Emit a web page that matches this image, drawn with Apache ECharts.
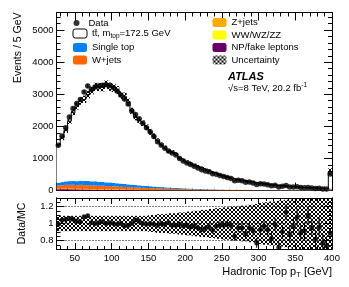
<!DOCTYPE html>
<html><head><meta charset="utf-8">
<script src="https://cdn.jsdelivr.net/npm/echarts@6/dist/echarts.min.js"></script>
<style>html,body{margin:0;padding:0;background:#fff}#c{width:349px;height:287px}</style>
</head><body><div id="c"></div>
<script>
// ---------------- data ----------------
const binEdges = [25,30,35,40,45,50,55,60,65,70,75,80,85,90,95,100,105,110,115,120,125,130,135,140,145,150,155,160,165,170,175,180,185,190,195,200,205,210,215,220,225,230,235,240,245,250,255,260,265,270,275,280,285,290,295,300,305,310,315,320,325,330,335,340,345,350,355,360,365,370,375,380,385,390,395,400];
const dataEvents = [1410,1700,1960,2290,2560,2710,2840,3070,3260,3150,
 3230,3260,3280,3300,3270,3200,3100,2975,2850,2700,
 2480,2370,2240,2100,1960,1830,1680,1520,1420,1320,
 1230,1170,1110,1000,920,860,810,760,705,650,
 611,581,520,504,470,436,408,377,304,318,
 303,261,263,237,185,207,202,179,148,165,
 112,131,153,109,113,116,90,86,95,77,
 62,67,50,45,516];
const ttbar = [1187,1372,1583,1867,2137,2340,2478,2545,2693,2833,
 2942,2956,2945,3047,2987,2965,2906,2760,2735,2563,
 2297,2109,2015,1949,1840,1697,1574,1436,1312,1234,
 1125,1108,1054,936,879,814,785,729,691,652,
 607,565,527,485,448,415,384,359,333,312,
 297,277,258,241,223,207,193,179,166,154,
 144,133,123,114,107,98,91,84,78,73,
 68,62,57,53,518];
const singleTop = [85,98,108,116,122,126,129,130,130,129,
 127,124,121,117,112,107,102,96,91,86,
 81,76,71,66,61,57,53,49,45,41,
 38,35,32,29,27,25,23,21,19,17,
 16,15,14,13,12,11,10,9,9,8,
 8,7,7,6,6,6,5,5,5,4,
 4,4,4,3,3,3,3,3,3,2,
 2,2,2,2,20];
const wJets = [95,105,115,118,122,110,125,118,120,112,
 118,108,112,100,104,96,92,90,84,80,
 78,72,68,66,60,58,54,50,48,44,
 42,38,36,34,31,29,27,25,23,22,
 20,19,18,16,15,14,13,12,12,11,
 10,9,9,8,8,7,7,6,6,6,
 5,5,5,5,4,4,4,4,3,3,
 3,3,3,3,30];
const zJets = [14,15,16,16,16,16,15,15,15,14,
 14,13,13,12,12,11,11,10,10,9,
 9,8,8,7,7,7,6,6,6,5,
 5,5,4,4,4,4,3,3,3,3,
 3,2,2,2,2,2,2,2,1,1,
 1,1,1,1,1,1,1,1,1,1,
 1,1,1,1,1,1,1,1,1,1,
 1,1,1,1,5];
const diboson = [3,3,3,3,3,3,3,3,3,3,
 3,3,3,3,3,3,3,3,3,3,
 2,2,2,2,2,2,2,2,2,2,
 2,2,2,2,2,2,2,2,2,2,
 1,1,1,1,1,1,1,1,1,1,
 1,1,1,1,1,1,1,1,1,1,
 1,1,1,1,1,1,1,1,1,1,
 1,1,1,1,2];
const fakes = [40,42,42,40,38,36,34,32,30,28,
 26,24,22,21,20,18,17,16,15,14,
 13,12,11,10,10,9,8,8,7,7,
 6,6,5,5,5,4,4,4,4,3,
 3,3,3,3,2,2,2,2,2,2,
 2,2,1,1,1,1,1,1,1,1,
 1,1,1,1,1,1,1,1,1,1,
 1,1,1,1,5];
// relative MC uncertainty as drawn in the ratio panel
const ratioUncRel = [0.09,0.09,0.09,0.09,0.09,0.09,0.09,0.09,0.09,0.09,
 0.09,0.09,0.09,0.09,0.09,0.09,0.09,0.09,0.09,0.09,
 0.09,0.09,0.09,0.09,0.09,
 0.10,0.10,0.11,0.11,0.11,0.12,0.12,0.12,0.13,0.13,
 0.14,0.14,0.15,0.15,0.16,0.16,0.17,0.17,0.18,0.18,
 0.19,0.19,0.20,0.20,0.20,0.21,0.21,0.22,0.22,0.23,
 0.24,0.25,0.25,0.26,0.26,0.27,0.27,0.28,0.28,
 0.45,0.45,0.45,0.45,0.45,0.45,0.45,0.45,0.45,0.45,0.45];
// relative MC uncertainty as drawn in the main panel
const mainUncRel = [0.04,0.04,0.04,0.04,0.04,0.04,0.04,0.04,0.04,0.04,
 0.04,0.04,0.04,0.04,0.04,0.04,0.04,0.04,0.04,0.04,
 0.04,0.04,0.04,0.04,0.04,
 0.05,0.05,0.05,0.05,0.05,0.05,0.05,0.05,0.05,0.05,
 0.07,0.07,0.07,0.07,0.07,0.07,0.07,0.07,0.07,0.07,
 0.10,0.10,0.10,0.10,0.10,0.10,0.10,0.10,0.10,0.10,
 0.14,0.14,0.14,0.14,0.14,0.14,0.14,0.14,0.14,
 0.20,0.20,0.20,0.20,0.20,0.20,0.20,0.20,0.20,0.20,0.20];
const xTickLabels = [50,100,150,200,250,300,350,400];
const xMinorTicks = [30,40,60,70,80,90,110,120,130,140,160,170,180,190,210,220,230,240,260,270,280,290,310,320,330,340,360,370,380,390];
const ratioTicks = [0.8,1.0,1.2];
const ratioMinorTicks = [0.75,0.85,0.9,0.95,1.05,1.1,1.15,1.25];
const ratioRefLines = [0.8,1.0,1.2];

// ---------------- checks ----------------
const NB = dataEvents.length;
[ttbar,singleTop,wJets,zJets,diboson,fakes,ratioUncRel,mainUncRel].forEach((a,k)=>{ if(a.length!==NB) throw new Error('length mismatch '+k+' '+a.length); });
if (binEdges.length !== NB+1) throw new Error('edges');

const FONT = 'Liberation Sans, Arial, Helvetica, sans-serif';

// hatch pattern
const hc = document.createElement('canvas'); hc.width = 4; hc.height = 4;
const hg = hc.getContext('2d'); hg.fillStyle = '#000';
for (let i=0;i<4;i++){ hg.fillRect(i,i,1,1); hg.fillRect(3-i,i,1,1); }
const hatch = {image: hc, repeat: 'repeat'};

// ---------------- build stack ----------------
const comps = [
  {name:'NP/fake leptons', vals:fakes, color:'#660066'},
  {name:'WW/WZ/ZZ', vals:diboson, color:'#ffff00'},
  {name:'Z+jets', vals:zJets, color:'#ffaa00'},
  {name:'W+jets', vals:wJets, color:'#ff6600'},
  {name:'Single top', vals:singleTop, color:'#0080ff'}
];
const cum = new Array(NB).fill(0);
function clipR(r, cs){
  return echarts.graphic.clipRectByRect(r, {x:cs.x, y:cs.y, width:cs.width, height:cs.height});
}
function makeRectRender(fillFn){
  return function(params, api){
    const x0=api.value(0), x1=api.value(1), y0=api.value(2), y1=api.value(3);
    const a=api.coord([x0,y1]), b=api.coord([x1,y0]);
    const r=clipR({x:a[0], y:a[1], width:b[0]-a[0]+0.4, height:b[1]-a[1]}, params.coordSys);
    if(!r) return null;
    return {type:'rect', shape:r, style:{fill: fillFn(api)}};
  };
}
const colorFill = makeRectRender(api=>api.visual('color'));
const hatchFill = makeRectRender(()=>hatch);

const series = [];
comps.forEach((c,ci)=>{
  const rows=[];
  for(let i=0;i<NB;i++){ const lo=cum[i], hi=cum[i]+c.vals[i]; rows.push([binEdges[i],binEdges[i+1],lo,hi]); cum[i]=hi; }
  series.push({type:'custom', name:c.name, xAxisIndex:0, yAxisIndex:0, renderItem:colorFill,
    itemStyle:{color:c.color}, data:rows, encode:{x:[0,1], y:[2,3]}, z:2, silent:true});
});
const total = cum.map((b,i)=>b+ttbar[i]);
series.push({type:'custom', name:'ttbar', xAxisIndex:0, yAxisIndex:0, renderItem:colorFill,
  itemStyle:{color:'#ffffff', borderColor:'#000', borderWidth:1},
  data: ttbar.map((v,i)=>[binEdges[i],binEdges[i+1],cum[i],total[i]]), encode:{x:[0,1],y:[2,3]}, z:3, silent:true});
const stepData = total.map((v,i)=>[binEdges[i],v]); stepData.push([binEdges[NB], total[NB-1]]);
series.push({type:'line', name:'_total', xAxisIndex:0, yAxisIndex:0, step:'end', data:stepData,
  symbol:'none', lineStyle:{color:'#000', width:1}, z:4, silent:true});
series.push({type:'custom', name:'Uncertainty', xAxisIndex:0, yAxisIndex:0, renderItem:hatchFill,
  itemStyle:{color:'#777'},
  data: total.map((v,i)=>[binEdges[i],binEdges[i+1],v*(1-mainUncRel[i]),v*(1+mainUncRel[i])]), encode:{x:[0,1],y:[2,3]}, z:5, silent:true});
const centers = dataEvents.map((v,i)=>(binEdges[i]+binEdges[i+1])/2);
function errRender(params, api){
  const x=api.value(0), lo=api.value(1), hi=api.value(2);
  const a=api.coord([x,lo]), b=api.coord([x,hi]);
  return {type:'line', shape:{x1:a[0],y1:a[1],x2:b[0],y2:b[1]}, style:{stroke:'#000', lineWidth:1}};
}
series.push({type:'custom', name:'_dataErr', xAxisIndex:0, yAxisIndex:0, renderItem:errRender, clip:true,
  data: dataEvents.map((v,i)=>[centers[i], v-Math.sqrt(v), v+Math.sqrt(v)]), encode:{x:0,y:[1,2]}, z:9, silent:true});
series.push({type:'scatter', name:'Data', xAxisIndex:0, yAxisIndex:0, symbol:'circle', symbolSize:5.5,
  itemStyle:{color:'#000'}, data: dataEvents.map((v,i)=>[centers[i],v]), z:10, silent:true, clip:true});

// ratio panel
series.push({type:'custom', name:'_ref', xAxisIndex:1, yAxisIndex:1, silent:true, z:1,
  data: ratioRefLines.map(v=>[binEdges[0], binEdges[NB], v]), encode:{x:[0,1], y:2},
  renderItem:function(params, api){
    const a=api.coord([api.value(0),api.value(2)]), b=api.coord([api.value(1),api.value(2)]);
    return {type:'line', shape:{x1:a[0],y1:a[1],x2:b[0],y2:b[1]}, style:{stroke:'#000', lineWidth:1, lineDash:[1,2]}};
  }});
series.push({type:'custom', name:'Uncertainty', xAxisIndex:1, yAxisIndex:1, renderItem:hatchFill,
  itemStyle:{color:'#777'},
  data: ratioUncRel.map((u,i)=>[binEdges[i],binEdges[i+1],1-u,1+u]), encode:{x:[0,1],y:[2,3]}, z:3, silent:true});
const ratio = dataEvents.map((v,i)=>v/total[i]);
series.push({type:'custom', name:'_ratioErr', xAxisIndex:1, yAxisIndex:1, renderItem:errRender, clip:true,
  data: ratio.map((r,i)=>{const e=Math.sqrt(dataEvents[i])/total[i]; return [centers[i], r-e, r+e];}), encode:{x:0,y:[1,2]}, z:9, silent:true});
series.push({type:'scatter', name:'_ratio', xAxisIndex:1, yAxisIndex:1, symbol:'circle', symbolSize:5,
  itemStyle:{color:'#000'}, data: ratio.map((r,i)=>[centers[i],r]), z:10, silent:true, clip:true});

// ---------------- axes ----------------
const G_MAIN = {left:56.5, top:12.5, width:275.5, height:178};
const G_RATIO = {left:56.5, top:198, width:275.5, height:51};
function grid(g){ return Object.assign({containLabel:false, outerBoundsMode:'none', show:false}, g); }
function xAx(gi, pos, ticks, len, labels){
  return {type:'value', gridIndex:gi, position:pos, min:25, max:400,
    axisLine:{show:true, onZero:false, lineStyle:{color:'#000', width:1}},
    axisTick:{show:true, inside:true, length:len, customValues:ticks, lineStyle:{color:'#000', width:1}},
    axisLabel: labels ? {show:true, customValues:labels, color:'#000', fontSize:9.5, margin:4, fontFamily:FONT, formatter:v=>String(v)} : {show:false},
    splitLine:{show:false}, minorTick:{show:false}, minorSplitLine:{show:false}, axisPointer:{show:false}};
}
function yMain(gi, pos, labels, show){
  return {type:'value', gridIndex:gi, position:pos, min:0, max:5550, interval:1000, show:show,
    axisLine:{show:true, onZero:false, lineStyle:{color:'#000', width:1}},
    axisTick:{show:true, inside:true, length:8, lineStyle:{color:'#000', width:1}},
    minorTick:{show:true, splitNumber:5, length:4, lineStyle:{color:'#000', width:1}},
    axisLabel: labels ? {show:true, color:'#000', fontSize:9.5, margin:3, fontFamily:FONT, showMaxLabel:false, formatter:v=>String(v)} : {show:false},
    splitLine:{show:false}, minorSplitLine:{show:false}};
}
function yRatio(gi, pos, ticks, len, labels){
  return {type:'value', gridIndex:gi, position:pos, min:0.7, max:1.3,
    axisLine:{show:true, onZero:false, lineStyle:{color:'#000', width:1}},
    axisTick:{show:true, inside:true, length:len, customValues:ticks, lineStyle:{color:'#000', width:1}},
    axisLabel: labels ? {show:true, customValues:labels, color:'#000', fontSize:9.5, margin:3, fontFamily:FONT,
      formatter:v=>(Math.abs(v-1)<1e-9?'1':String(+v.toFixed(1)))} : {show:false},
    splitLine:{show:false}, minorTick:{show:false}, minorSplitLine:{show:false}};
}
const xAxis = [
  xAx(0,'bottom',xTickLabels,8,null),
  xAx(1,'bottom',xTickLabels,6,xTickLabels),
  xAx(2,'bottom',xMinorTicks,4,null),
  xAx(3,'bottom',xMinorTicks,3,null),
  xAx(4,'top',xTickLabels,8,null),
  xAx(5,'top',xTickLabels,6,null),
  xAx(6,'top',xMinorTicks,4,null),
  xAx(7,'top',xMinorTicks,3,null)
];
const yAxis = [
  yMain(0,'left',true,true),
  yRatio(1,'left',ratioTicks,8,ratioTicks),
  yMain(2,'right',false,true),
  yRatio(3,'left',ratioMinorTicks,4,null),
  yMain(4,'right',false,false),
  yRatio(5,'right',ratioTicks,8,null),
  yMain(6,'right',false,false),
  yRatio(7,'right',ratioMinorTicks,4,null)
];

const legendText = {color:'#000', fontSize:9.5, fontFamily:FONT,
  rich:{a:{fontSize:9.5, fontFamily:FONT, color:'#000', lineHeight:13, verticalAlign:'middle'},
        s:{fontSize:6.5, fontFamily:FONT, color:'#000', lineHeight:13, verticalAlign:'bottom'}}};
const legFmt = n => n==='ttbar' ? '{a|tt\u0304, m}{s|top}{a|=172.5 GeV}' : n;
const option = {
  animation:false, backgroundColor:'#fff',
  textStyle:{fontFamily:FONT},
  grid:[grid(G_MAIN),grid(G_RATIO),grid(G_MAIN),grid(G_RATIO),grid(G_MAIN),grid(G_RATIO),grid(G_MAIN),grid(G_RATIO)],
  xAxis, yAxis,
  legend:[
    {orient:'vertical', left:73.5, top:18, itemWidth:14, itemHeight:6, itemGap:2, selectedMode:false,
     data:['Data'], textStyle:legendText, formatter:legFmt, padding:0},
    {orient:'vertical', left:72.5, top:28.5, itemWidth:14, itemHeight:9, itemGap:2.5, selectedMode:false,
     data:[{name:'ttbar', itemStyle:{color:'#fff', borderColor:'#000', borderWidth:1}},'Single top','W+jets'],
     textStyle:legendText, formatter:legFmt, padding:0},
    {orient:'vertical', left:212.5, top:17.5, itemWidth:14, itemHeight:9, itemGap:2.5, selectedMode:false,
     data:['Z+jets','WW/WZ/ZZ','NP/fake leptons',{name:'Uncertainty', itemStyle:{color:hatch}}],
     textStyle:legendText, formatter:legFmt, padding:0}
  ],
  graphic:[
    {type:'text', x:18, y:12.5, rotation:Math.PI/2, silent:true,
     style:{text:'Events / 5 GeV', fontSize:10.5, fontFamily:FONT, fill:'#000', align:'right', verticalAlign:'middle'}},
    {type:'text', x:22, y:223.5, rotation:Math.PI/2, silent:true,
     style:{text:'Data/MC', fontSize:10.5, fontFamily:FONT, fill:'#000', align:'center', verticalAlign:'middle'}},
    {type:'text', x:332, y:271.5, silent:true,
     style:{text:'{a|Hadronic Top p}{s|T}{a| [GeV]}', align:'right', verticalAlign:'middle', fill:'#000',
       rich:{a:{fontSize:11, fontFamily:FONT, fill:'#000', lineHeight:15, verticalAlign:'middle'},
             s:{fontSize:7.5, fontFamily:FONT, fill:'#000', lineHeight:15, verticalAlign:'bottom'}}}},
    {type:'text', x:228, y:76.7, silent:true,
     style:{text:'ATLAS', fontSize:11, fontWeight:'bold', fontStyle:'italic', fontFamily:FONT, fill:'#000', align:'left', verticalAlign:'middle'}},
    {type:'text', x:228, y:88.5, silent:true,
     style:{text:'{a|\u221As=8 TeV, 20.2 fb}{p|-1}', align:'left', verticalAlign:'middle',
       rich:{a:{fontSize:9.5, fontFamily:FONT, fill:'#000', lineHeight:13, verticalAlign:'middle'},
             p:{fontSize:6.5, fontFamily:FONT, fill:'#000', lineHeight:13, verticalAlign:'top'}}}}
  ],
  series
};
const chart = echarts.init(document.getElementById('c'), null, {renderer:'canvas'});
chart.setOption(option);
</script></body></html>
